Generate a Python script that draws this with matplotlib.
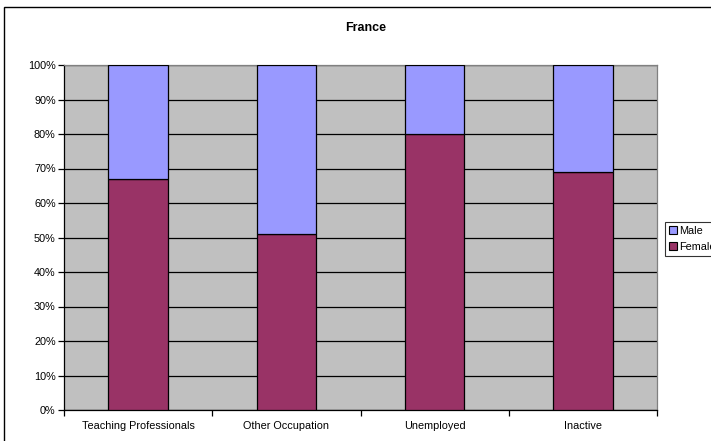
import matplotlib
matplotlib.use("Agg")
import matplotlib.pyplot as plt
from matplotlib.patches import Rectangle, Patch
from matplotlib.ticker import FixedLocator
import numpy as np

categories = ["Teaching Professionals", "Other Occupation", "Unemployed", "Inactive"]
female = [67, 51, 80, 69]
male = [100 - f for f in female]
y_ticks = list(range(0, 101, 10))
y_labels = [f"{t}%" for t in y_ticks]
title = "France"

plt.rcParams["font.family"] = ["Liberation Sans", "DejaVu Sans"]

W, H = 711, 441
fig = plt.figure(figsize=(W / 100, H / 100), dpi=100)
ax = fig.add_axes([64 / W, (H - 410) / H, (657 - 64) / W, (410 - 65) / H])
ax.set_facecolor("#C0C0C0")

x = np.arange(len(categories))
bar_w = 0.4
ax.bar(x, female, bar_w, color="#993366", edgecolor="black", linewidth=0.9,
       label="Female", zorder=3)
ax.bar(x, male, bar_w, bottom=female, color="#9999FF", edgecolor="black",
       linewidth=0.9, label="Male", zorder=3)

ax.set_xlim(-0.5, len(categories) - 0.5)
ax.set_ylim(0, 100)

ax.set_yticks(y_ticks)
ax.set_yticklabels(y_labels, fontsize=7.8)
ax.yaxis.grid(True, color="black", linewidth=0.9, zorder=1)
ax.set_axisbelow(True)

ax.set_xticks(x)
ax.set_xticklabels(categories, fontsize=7.8)
ax.xaxis.set_minor_locator(FixedLocator(np.arange(-0.5, len(categories), 1.0)))
ax.tick_params(axis="x", which="major", length=0, pad=8)
ax.tick_params(axis="x", which="minor", length=4, width=0.9, direction="out")
ax.tick_params(axis="y", length=4, width=0.9, direction="out", pad=2)

for side in ("top", "right"):
    ax.spines[side].set_color("#808080")
    ax.spines[side].set_linewidth(0.9)
for side in ("left", "bottom"):
    ax.spines[side].set_color("black")
    ax.spines[side].set_linewidth(0.9)

fig.text(366 / W, 1 - 28 / H, title, ha="center", va="center",
         fontsize=9, fontweight="bold")

# outer chart frame
fig.patches.append(Rectangle((4 / W, -0.1), 1.2, 1 - 7 / H + 0.1,
                             transform=fig.transFigure, fill=False,
                             edgecolor="black", linewidth=1.0))

handles = [Patch(facecolor="#9999FF", edgecolor="black", linewidth=0.8, label="Male"),
           Patch(facecolor="#993366", edgecolor="black", linewidth=0.8, label="Female")]
leg = fig.legend(handles=handles, loc="upper left",
                 bbox_to_anchor=(665 / W, 1 - 222 / H), fontsize=7.8,
                 frameon=True, fancybox=False, handlelength=0.75,
                 handleheight=0.75, handletextpad=0.2, borderpad=0.35,
                 labelspacing=0.55, borderaxespad=0)
leg.get_frame().set_edgecolor("black")
leg.get_frame().set_linewidth(0.8)

fig.savefig("out.png", dpi=100)
